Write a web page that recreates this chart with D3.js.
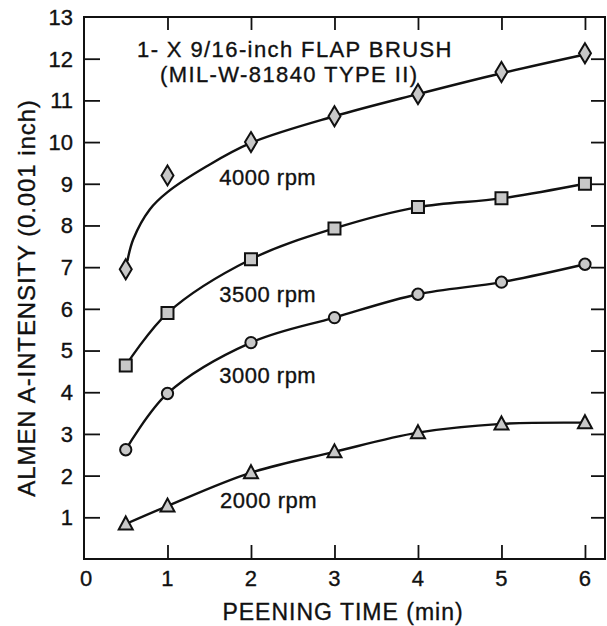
<!DOCTYPE html>
<html>
<head>
<meta charset="utf-8">
<script src="https://cdn.jsdelivr.net/npm/d3@7"></script>
<style>
  html, body { margin: 0; padding: 0; background: #fff; }
  svg { display: block; }
  text { font-family: "Liberation Sans", Arial, Helvetica, sans-serif; fill: #111; stroke: #111; stroke-width: 0.35px; }
</style>
</head>
<body>
<div id="chart"></div>
<script>
// ---- data ----
const time = [0.5, 1, 2, 3, 4, 5, 6];
const rpm4000 = [6.95, 9.2, 10.0, 10.62, 11.15, 11.68, 12.13];
const rpm3500 = [4.64, 5.9, 7.19, 7.93, 8.44, 8.65, 9.0];
const rpm3000 = [2.62, 3.97, 5.19, 5.79, 6.35, 6.64, 7.07];
const rpm2000 = [0.84, 1.27, 2.07, 2.57, 3.03, 3.24, 3.27];
// fitted curve drawn for 4000 rpm (does not pass through the 1-min point)
const fit4000Time = [0.52, 0.59, 0.79, 1, 1.47, 2, 3, 4, 5, 6];
const fit4000 = [7.15, 7.67, 8.39, 8.8, 9.42, 9.98, 10.62, 11.15, 11.65, 12.1];
const seriesNames = ["4000 rpm", "3500 rpm", "3000 rpm", "2000 rpm"];
const markerTypes = ["diamond", "square", "circle", "triangle"];
const xTicks = [1, 2, 3, 4, 5, 6];
const xTickLabels = ["0", "1", "2", "3", "4", "5", "6"];
const yTicks = [1, 2, 3, 4, 5, 6, 7, 8, 9, 10, 11, 12];
const yTickLabels = ["1", "2", "3", "4", "5", "6", "7", "8", "9", "10", "11", "12", "13"];
const titleLines = ["1- X 9/16-inch FLAP BRUSH", "(MIL-W-81840 TYPE II)"];
const xTitle = "PEENING TIME (min)";
const yTitle = "ALMEN A-INTENSITY (0.001 inch)";

// ---- layout ----
const W = 607, H = 626;
const m = { left: 84, top: 17, right: 2, bottom: 67 };
const svg = d3.select("#chart").append("svg").attr("width", W).attr("height", H);
const x = d3.scaleLinear().domain([0, 6.24]).range([m.left, W - m.right]);
const y = d3.scaleLinear().domain([0, 13]).range([H - m.bottom, m.top]);

const series = [
  { name: seriesNames[0], marker: markerTypes[0], pts: time.map((t, i) => [t, rpm4000[i]]), fit: fit4000Time.map((t, i) => [t, fit4000[i]]), label: [1.62, 8.97] },
  { name: seriesNames[1], marker: markerTypes[1], pts: time.map((t, i) => [t, rpm3500[i]]), fit: time.map((t, i) => [t, rpm3500[i]]), label: [1.62, 6.16] },
  { name: seriesNames[2], marker: markerTypes[2], pts: time.map((t, i) => [t, rpm3000[i]]), fit: time.map((t, i) => [t, rpm3000[i]]), label: [1.62, 4.22] },
  { name: seriesNames[3], marker: markerTypes[3], pts: time.map((t, i) => [t, rpm2000[i]]), fit: time.map((t, i) => [t, rpm2000[i]]), label: [1.63, 1.22] }
];

// ---- frame and ticks ----
const g = svg.append("g");
const px0 = x.range()[0], px1 = x.range()[1], py0 = y.range()[0], py1 = y.range()[1];

const axBottom = g.append("g").attr("transform", `translate(0,${py0})`)
  .call(d3.axisTop(x).tickValues(xTicks).tickSize(14).tickFormat(""));
const axTop = g.append("g").attr("transform", `translate(0,${py1})`)
  .call(d3.axisBottom(x).tickValues(xTicks).tickSize(13).tickFormat(""));
const axLeft = g.append("g").attr("transform", `translate(${px0},0)`)
  .call(d3.axisRight(y).tickValues(yTicks).tickSize(16).tickFormat(""));
const axRight = g.append("g").attr("transform", `translate(${px1},0)`)
  .call(d3.axisLeft(y).tickValues(yTicks).tickSize(14).tickFormat(""));
[axBottom, axTop, axLeft, axRight].forEach(a => {
  a.select(".domain").remove();
  a.selectAll("line").attr("stroke", "#111").attr("stroke-width", 1.8);
});

g.append("rect").attr("x", px0).attr("y", py1).attr("width", px1 - px0).attr("height", py0 - py1)
  .attr("fill", "none").attr("stroke", "#111").attr("stroke-width", 2);

// tick labels
g.selectAll(".xl").data(xTickLabels).enter().append("text")
  .attr("x", (d) => x(+d) + (+d === 0 ? 2 : 0)).attr("y", 586)
  .attr("text-anchor", "middle").style("font-size", "22px").text(d => d);
g.selectAll(".yl").data(yTickLabels).enter().append("text")
  .attr("x", 73).attr("y", d => y(+d)).attr("dy", "0.36em")
  .attr("text-anchor", "end").style("font-size", "22px").text(d => d);

// axis titles
g.append("text").attr("x", 343).attr("y", 620).attr("text-anchor", "middle")
  .style("font-size", "23px").style("letter-spacing", "1px").text(xTitle);
g.append("text").attr("transform", `translate(35,298) rotate(-90)`).attr("text-anchor", "middle")
  .style("font-size", "24px").style("letter-spacing", "0.9px").text(yTitle);

// title
g.append("text").attr("x", 137).attr("y", 57).style("font-size", "22px").style("letter-spacing", "1.4px").text(titleLines[0]);
g.append("text").attr("x", 160).attr("y", 82).style("font-size", "22px").style("letter-spacing", "1.4px").text(titleLines[1]);

// ---- curves ----
const line = d3.line().x(d => x(d[0])).y(d => y(d[1])).curve(d3.curveCatmullRom.alpha(0.5));
series.forEach(s => {
  g.append("path").attr("d", line(s.fit)).attr("fill", "none").attr("stroke", "#111").attr("stroke-width", 2.4);
});

// ---- markers ----
function markerPath(type) {
  switch (type) {
    case "diamond": return "M0,-10 L6,0 L0,10 L-6,0 Z";
    case "square": return "M-6,-6 L6,-6 L6,6 L-6,6 Z";
    case "triangle": return "M0,-7.5 L7,5.5 L-7,5.5 Z";
    default: return d3.symbol(d3.symbolCircle, 100)();
  }
}
series.forEach(s => {
  g.selectAll(null).data(s.pts).enter().append("path")
    .attr("transform", d => `translate(${x(d[0])},${y(d[1])})`)
    .attr("d", markerPath(s.marker))
    .attr("fill", "#c8c8c8").attr("stroke", "#111").attr("stroke-width", 2);
});

// series labels
series.forEach(s => {
  g.append("text").attr("x", x(s.label[0])).attr("y", y(s.label[1]))
    .style("font-size", "22px").style("letter-spacing", "0.5px").text(s.name);
});
</script>
</body>
</html>
